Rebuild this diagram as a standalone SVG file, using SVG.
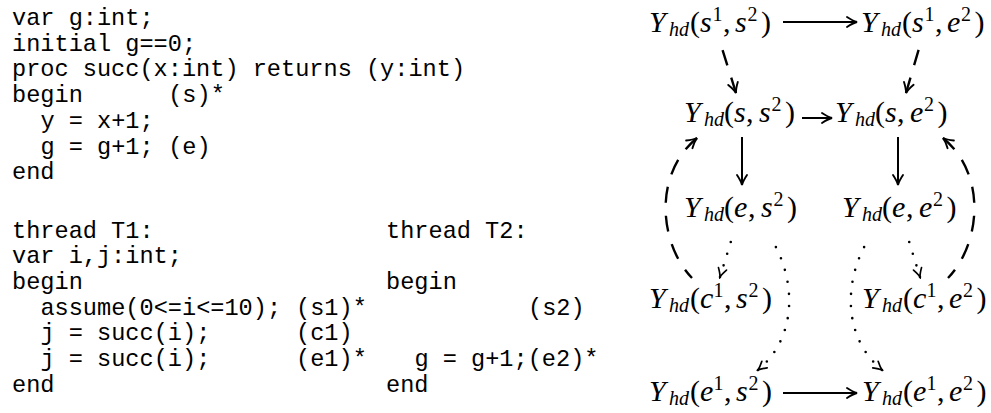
<svg xmlns="http://www.w3.org/2000/svg" width="991" height="413" viewBox="0 0 991 413">
  <style>
    .code { font-family: "Liberation Mono", "DejaVu Sans Mono", monospace; font-size: 23.6px; fill: #000; }
    .m { font-family: "Liberation Serif", "Times New Roman", serif; font-size: 30px; fill: #000; }
    .i { font-style: italic; }
    .s { font-size: 20px; }
    .solid, .dash, .dot { fill: none; stroke: #000; }
    .solid { stroke-width: 2; }
    .dash { stroke-width: 2.4; stroke-dasharray: 16 13; }
    .dot { stroke-width: 2.6; stroke-linecap: round; stroke-dasharray: 0 12.2; }
  </style>
  <defs>
    <marker id="ah" viewBox="-12 -7 14 14" refX="0" refY="0" markerWidth="14" markerHeight="14" markerUnits="userSpaceOnUse" orient="auto-start-reverse">
      <path d="M-10,-5 Q-4,-1 0,0 Q-4,1 -10,5" fill="none" stroke="#000" stroke-width="1.9" stroke-linecap="round"/>
    </marker>
    <marker id="ahs" viewBox="-12 -7 14 14" refX="0" refY="0" markerWidth="14" markerHeight="14" markerUnits="userSpaceOnUse" orient="auto-start-reverse">
      <path d="M-8.5,-4.2 Q-3,-0.8 0,0 Q-3,0.8 -8.5,4.2" fill="none" stroke="#000" stroke-width="1.7" stroke-linecap="round"/>
    </marker>
  </defs>

  <!-- shared procedure and global variable -->
  <g id="code-proc" class="code">
    <text x="12" y="25">var g:int;</text>
    <text x="12" y="50.7">initial g==0;</text>
    <text x="12" y="76.4">proc succ(x:int) returns (y:int)</text>
    <text x="12" y="102.1">begin</text>
    <text x="168.2" y="102.1">(s)*</text>
    <text x="40.4" y="127.8">y = x+1;</text>
    <text x="40.4" y="153.5">g = g+1;</text>
    <text x="168.2" y="153.5">(e)</text>
    <text x="12" y="179.2">end</text>
  </g>

  <!-- thread T1 -->
  <g id="code-t1" class="code">
    <text x="12" y="237.5">thread T1:</text>
    <text x="12" y="263.2">var i,j:int;</text>
    <text x="12" y="288.9">begin</text>
    <text x="40.4" y="314.6">assume(0&lt;=i&lt;=10);</text>
    <text x="296" y="314.6">(s1)*</text>
    <text x="40.4" y="340.3">j = succ(i);</text>
    <text x="296" y="340.3">(c1)</text>
    <text x="40.4" y="366">j = succ(i);</text>
    <text x="296" y="366">(e1)*</text>
    <text x="12" y="391.7">end</text>
  </g>

  <!-- thread T2 -->
  <g id="code-t2" class="code">
    <text x="386" y="237.5">thread T2:</text>
    <text x="386" y="288.9">begin</text>
    <text x="528" y="314.6">(s2)</text>
    <text x="414.4" y="366">g = g+1;(e2)*</text>
    <text x="386" y="391.7">end</text>
  </g>

  <!-- graph nodes -->
  <g id="n-s1-s2" class="m" transform="translate(649,32)">
    <text><tspan class="i" x="0">Y</tspan><tspan class="i s" x="20" y="4">hd</tspan><tspan x="41" y="0">(</tspan><tspan class="i" x="51">s</tspan><tspan class="s" x="63.5" y="-11">1</tspan><tspan x="74" y="0">,</tspan><tspan class="i" x="86">s</tspan><tspan class="s" x="98.5" y="-11">2</tspan><tspan x="112" y="0">)</tspan></text>
  </g>
  <g id="n-s1-e2" class="m" transform="translate(861,32)">
    <text><tspan class="i" x="0">Y</tspan><tspan class="i s" x="20" y="4">hd</tspan><tspan x="41" y="0">(</tspan><tspan class="i" x="51">s</tspan><tspan class="s" x="63.5" y="-11">1</tspan><tspan x="74" y="0">,</tspan><tspan class="i" x="86">e</tspan><tspan class="s" x="100" y="-11">2</tspan><tspan x="113.5" y="0">)</tspan></text>
  </g>
  <g id="n-s-s2" class="m" transform="translate(684,122)">
    <text><tspan class="i" x="0">Y</tspan><tspan class="i s" x="20" y="4">hd</tspan><tspan x="40" y="0">(</tspan><tspan class="i" x="50">s</tspan><tspan x="62">,</tspan><tspan class="i" x="75">s</tspan><tspan class="s" x="87.5" y="-11">2</tspan><tspan x="101" y="0">)</tspan></text>
  </g>
  <g id="n-s-e2" class="m" transform="translate(835,122)">
    <text><tspan class="i" x="0">Y</tspan><tspan class="i s" x="20" y="4">hd</tspan><tspan x="40" y="0">(</tspan><tspan class="i" x="50">s</tspan><tspan x="62">,</tspan><tspan class="i" x="75">e</tspan><tspan class="s" x="89" y="-11">2</tspan><tspan x="102.5" y="0">)</tspan></text>
  </g>
  <g id="n-e-s2" class="m" transform="translate(684,217)">
    <text><tspan class="i" x="0">Y</tspan><tspan class="i s" x="20" y="4">hd</tspan><tspan x="40" y="0">(</tspan><tspan class="i" x="50">e</tspan><tspan x="64">,</tspan><tspan class="i" x="77">s</tspan><tspan class="s" x="89.5" y="-11">2</tspan><tspan x="103" y="0">)</tspan></text>
  </g>
  <g id="n-e-e2" class="m" transform="translate(842,217)">
    <text><tspan class="i" x="0">Y</tspan><tspan class="i s" x="20" y="4">hd</tspan><tspan x="40" y="0">(</tspan><tspan class="i" x="50">e</tspan><tspan x="64">,</tspan><tspan class="i" x="77">e</tspan><tspan class="s" x="91" y="-11">2</tspan><tspan x="104.5" y="0">)</tspan></text>
  </g>
  <g id="n-c1-s2" class="m" transform="translate(649,308)">
    <text><tspan class="i" x="0">Y</tspan><tspan class="i s" x="20" y="4">hd</tspan><tspan x="41" y="0">(</tspan><tspan class="i" x="51">c</tspan><tspan class="s" x="64.5" y="-11">1</tspan><tspan x="75" y="0">,</tspan><tspan class="i" x="87">s</tspan><tspan class="s" x="99.5" y="-11">2</tspan><tspan x="113" y="0">)</tspan></text>
  </g>
  <g id="n-c1-e2" class="m" transform="translate(862,308)">
    <text><tspan class="i" x="0">Y</tspan><tspan class="i s" x="20" y="4">hd</tspan><tspan x="41" y="0">(</tspan><tspan class="i" x="51">c</tspan><tspan class="s" x="64.5" y="-11">1</tspan><tspan x="75" y="0">,</tspan><tspan class="i" x="87">e</tspan><tspan class="s" x="101" y="-11">2</tspan><tspan x="114.5" y="0">)</tspan></text>
  </g>
  <g id="n-e1-s2" class="m" transform="translate(649,401)">
    <text><tspan class="i" x="0">Y</tspan><tspan class="i s" x="20" y="4">hd</tspan><tspan x="41" y="0">(</tspan><tspan class="i" x="51">e</tspan><tspan class="s" x="64.5" y="-11">1</tspan><tspan x="75" y="0">,</tspan><tspan class="i" x="87">s</tspan><tspan class="s" x="99.5" y="-11">2</tspan><tspan x="113" y="0">)</tspan></text>
  </g>
  <g id="n-e1-e2" class="m" transform="translate(862,401)">
    <text><tspan class="i" x="0">Y</tspan><tspan class="i s" x="20" y="4">hd</tspan><tspan x="41" y="0">(</tspan><tspan class="i" x="51">e</tspan><tspan class="s" x="64.5" y="-11">1</tspan><tspan x="75" y="0">,</tspan><tspan class="i" x="87">e</tspan><tspan class="s" x="101" y="-11">2</tspan><tspan x="114.5" y="0">)</tspan></text>
  </g>

  <!-- connectors: dashed and dotted paths start at the arrow tip -->
  <g id="connectors">
    <path class="solid" d="M783,22 H857" marker-end="url(#ah)"/>
    <path class="solid" d="M802,118 H832" marker-end="url(#ah)"/>
    <path class="solid" d="M783,393 H857" marker-end="url(#ah)"/>
    <path class="solid" d="M742,137 V185" marker-end="url(#ah)"/>
    <path class="solid" d="M898,137 V185" marker-end="url(#ah)"/>

    <path class="dash" d="M736,93 L721,45" marker-start="url(#ah)"/>
    <path class="dash" d="M906,93 L920,45" marker-start="url(#ah)"/>
    <path class="dash" d="M697,138 C652,175 660,245 692,278" marker-start="url(#ah)"/>
    <path class="dash" d="M943,138 C988,175 980,245 948,278" marker-start="url(#ah)"/>

    <path class="dot" d="M720,277 L732,238" marker-start="url(#ahs)"/>
    <path class="dot" d="M758,370 C800,335 795,275 770,237" marker-start="url(#ahs)"/>
    <path class="dot" d="M920,277 L908,238" marker-start="url(#ahs)"/>
    <path class="dot" d="M882,370 C840,335 845,275 870,237" marker-start="url(#ahs)"/>
  </g>
</svg>
